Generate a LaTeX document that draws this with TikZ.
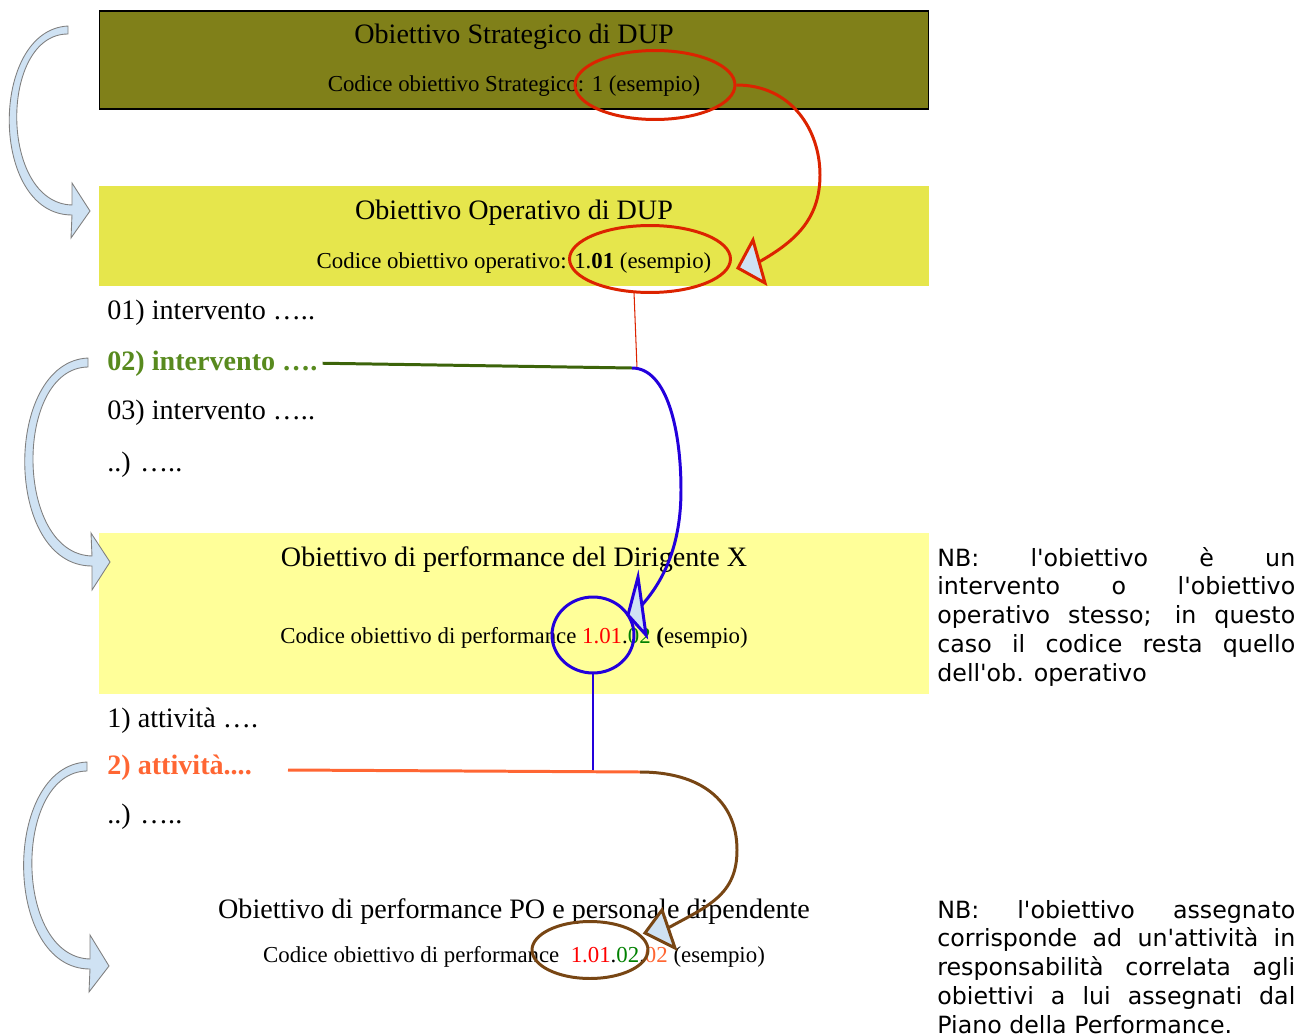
\documentclass[tikz,border=0pt]{standalone}
\usepackage{fontspec}
\setmainfont{Liberation Serif}
\newfontfamily\nbfont{DejaVu Sans}
\usetikzlibrary{positioning,shapes.geometric}
\definecolor{olivebox}{RGB}{128,128,25}
\definecolor{opbox}{RGB}{230,230,76}
\definecolor{perfbox}{RGB}{255,255,153}
\definecolor{arrowfill}{RGB}{207,226,243}
\definecolor{ringred}{RGB}{220,35,0}
\definecolor{ringblue}{RGB}{35,0,220}
\definecolor{ringbrown}{RGB}{120,70,20}
\definecolor{lineorange}{RGB}{255,102,51}
\definecolor{linegreen}{RGB}{60,100,10}
\definecolor{itemgreen}{RGB}{88,138,30}
\definecolor{codered}{RGB}{255,0,0}
\definecolor{codegreen}{RGB}{0,128,0}
\tikzset{
  band/.style={rectangle,minimum width=16.6cm,inner sep=0pt,outer sep=0pt},
  boxtitle/.style={anchor=base,inner sep=0pt,font=\fontsize{16}{19}\selectfont},
  boxcode/.style={anchor=base,inner sep=0pt,font=\fontsize{13}{16}\selectfont},
  listitem/.style={anchor=base west,inner sep=0pt,font=\fontsize{16}{19}\selectfont},
  codering/.style={ellipse,draw=#1,line width=1.7pt,inner sep=0pt},
  curvelink/.style={line width=1.7pt},
  hairline/.style={line width=0.6pt},
  headtri/.style={fill=arrowfill,line width=1.7pt},
  sidearrow/.style={fill=arrowfill,draw=gray,line width=0.5pt},
  nbnote/.style={anchor=base west,inner sep=0pt,text width=7.16cm,align=justify,
    font=\nbfont\fontsize{13.5}{16.44}\selectfont}
}
\begin{document}
\begin{tikzpicture}[x=0.02cm,y=-0.02cm]
\useasboundingbox (0,0) rectangle (1299,1034);
\clip (0,0) rectangle (1299,1034);

\node[band,fill=olivebox,draw=black,line width=0.6pt,minimum height=1.96cm] (strat) at (514,60) {};
\node[band,fill=opbox,minimum height=2cm] (oper) at (514,236) {};
\node[band,fill=perfbox,minimum height=3.22cm] (perf) at (514,613.5) {};

\node[boxtitle] (tS) at (514,44) {Obiettivo Strategico di DUP};
\node[boxcode] (cS) at (514,92) {Codice obiettivo Strategico: 1 (esempio)};
\node[boxtitle] (tO) at (514,219) {Obiettivo Operativo di DUP};
\node[boxcode] (cO) at (514,268) {Codice obiettivo operativo: 1.\textbf{01} (esempio)};
\node[boxtitle] (tP) at (514,566) {Obiettivo di performance del Dirigente X};
\node[boxcode] (cP) at (514,643) {Codice obiettivo di performance \textcolor{codered}{1.01}.\textcolor{codegreen}{02} \textbf{(}esempio)};
\node[boxtitle] (tQ) at (514,918) {Obiettivo di performance PO e personale dipendente};
\node[boxcode] (cQ) at (514,962) {Codice obiettivo di performance\ \ \textcolor{codered}{1.01}.\textcolor{codegreen}{02}.\textcolor{lineorange}{02} (esempio)};

\node[listitem] (iv1) at (107,319) {01) intervento …..};
\node[listitem,text=itemgreen] (iv2) at (107,370) {\bfseries 02) intervento ….};
\node[listitem] (iv3) at (107,419) {03) intervento …..};
\node[listitem] (iv4) at (107,471) {..) …..};
\node[listitem] (at1) at (107,727) {1) attività ….};
\node[listitem,text=lineorange] (at2) at (107,774) {\bfseries 2) attività....};
\node[listitem] (at3) at (107,823) {..) …..};

\node[nbnote] (nb1) at (937,566) {\hyphenpenalty=10000 NB: l'obiettivo è un\linebreak intervento o l'obiettivo\linebreak operativo stesso; in questo\linebreak caso il codice resta quello\linebreak dell'ob. operativo};
\node[nbnote] (nb2) at (937,918) {\hyphenpenalty=10000 NB: l'obiettivo assegnato\linebreak corrisponde ad un'attività in\linebreak responsabilità correlata agli\linebreak obiettivi a lui assegnati dal\linebreak Piano della Performance.};

\filldraw[sidearrow] (68,26) .. controls (-11,30) and (-11,215) .. (72,215) -- (71,238) -- (90,211) -- (72,183) -- (72,205) .. controls (-1,203) and (-1,34) .. (68,34) -- cycle;
\filldraw[sidearrow] (88,358) .. controls (3,362) and (3,566) .. (92,566) -- (92,590) -- (110,562) -- (91,533) -- (92,556) .. controls (14,554) and (14,368) .. (88,367) -- cycle;
\filldraw[sidearrow] (87,762) .. controls (2,766) and (2,969) .. (90,969) -- (89,992) -- (109,966) -- (90,935) -- (90,959) .. controls (13,957) and (13,772) .. (87,771) -- cycle;

\node[codering=ringred,minimum width=3.2cm,minimum height=1.38cm] (codS) at (655,85) {};
\node[codering=ringred,minimum width=3.22cm,minimum height=1.34cm] (codO) at (650,259) {};
\node[codering=ringblue,minimum width=1.64cm,minimum height=1.52cm] (codP) at (593,635) {};
\node[codering=ringbrown,minimum width=2.32cm,minimum height=1.14cm] (codQ) at (590,950) {};

\coordinate (jO) at (632,368);
\coordinate (jR) at (637,368);
\coordinate (jB) at (593,771);
\coordinate (jP) at (640,772);
\coordinate (oS) at (288,770);
\coordinate (hO) at (759,262);
\coordinate (hP) at (642,605);
\coordinate (hQ) at (668,928);

\draw[hairline,ringred] ([xshift=-0.32cm,yshift=0.04cm]codO.south) -- (jR);
\draw[curvelink,linegreen] ([xshift=0.1cm]iv2.east) -- (jO);
\draw[hairline,ringblue] (codP.south) -- (jB);
\draw[curvelink,lineorange] (oS) -- (jP);

\draw[curvelink,ringred] (codS.east) .. controls +(55,0) and +(0,-45) .. (820,175) .. controls +(0,45) and +(35,-20) .. (hO);
\filldraw[headtri,draw=ringred] (738,268) -- (753,240) -- (765,283) -- cycle;
\draw[curvelink,ringblue] (jO) .. controls +(35,0) and +(0,-60) .. (681,490) .. controls +(0,55) and +(22,-25) .. (hP);
\filldraw[headtri,draw=ringblue] (628,615) -- (638,577) -- (646,635) -- cycle;
\draw[curvelink,ringbrown] (jP) .. controls +(60,0) and +(0,-50) .. (737,850) .. controls +(0,45) and +(40,-22) .. (hQ);
\filldraw[headtri,draw=ringbrown] (645,933) -- (662,910) -- (675,948) -- cycle;
\end{tikzpicture}
\end{document}
